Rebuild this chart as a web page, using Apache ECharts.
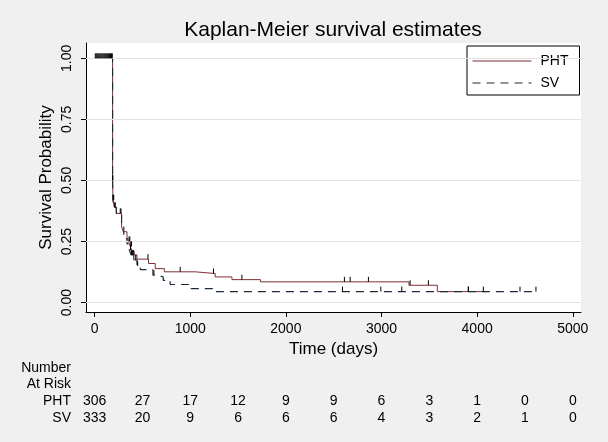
<!DOCTYPE html>
<html>
<head>
    <title>Kaplan-Meier survival estimates</title>
    <meta charset="utf-8">
    <script src="https://cdn.jsdelivr.net/npm/echarts@6/dist/echarts.min.js"></script>
    <style>
        html, body { margin: 0; padding: 0; background: #f0f0f0; }
        #chart { width: 608px; height: 442px; }
    </style>
</head>
<body>
    <div id="chart"></div>
    <script>
        // KM steps: [time (days), survival from that time on]
        const phtSteps = [[0, 1], [188, 0.5], [192, 0.42], [206, 0.39], [227, 0.365], [282, 0.31], [300, 0.29],
            [339, 0.265], [355, 0.25], [373, 0.23], [391, 0.21], [415, 0.195], [443, 0.178], [564, 0.16],
            [634, 0.139], [730, 0.126], [1052, 0.119], [1261, 0.105], [1436, 0.094], [1734, 0.085],
            [3287, 0.071], [3584, 0.045], [4100, 0.045]];
        const svSteps = [[0, 1], [188, 0.5], [192, 0.42], [206, 0.39], [227, 0.365], [282, 0.31], [305, 0.262],
            [339, 0.24], [363, 0.215], [383, 0.195], [408, 0.175], [443, 0.15], [478, 0.135], [610, 0.112],
            [666, 0.105], [718, 0.091], [790, 0.074], [1010, 0.057], [1254, 0.045], [4615, 0.045]];
        // censored times (tick marks)
        const phtCensor = [7, 17, 27, 37, 47, 57, 67, 77, 87, 97, 107, 117, 127, 137, 147, 157, 167, 177, 185,
            189, 190, 195, 200, 210, 216, 268, 276, 360, 368, 378, 386, 558, 895, 1243, 1540,
            2612, 2672, 2863, 3299, 3490, 3908, 4065];
        const svCensor = [375, 385, 395, 405, 410, 430, 450, 620, 2592, 2993, 3212, 3908, 4448, 4615];

        const xTicks = [0, 1000, 2000, 3000, 4000, 5000];
        const yTicks = [0, 0.25, 0.5, 0.75, 1];

        // number at risk table
        const riskTimes = [0, 500, 1000, 1500, 2000, 2500, 3000, 3500, 4000, 4500, 5000];
        const riskPHT = [306, 27, 17, 12, 9, 9, 6, 3, 1, 0, 0];
        const riskSV = [333, 20, 9, 6, 6, 6, 4, 3, 2, 1, 0];

        const FONT = 'Liberation Sans, Arial, sans-serif';
        const PHT_COLOR = '#7f2f35';
        const SV_COLOR = '#1c2a3c';

        function survAt(steps, t) {
            let s = steps[0][1];
            steps.forEach(([tt, v]) => { if (tt <= t) s = v; });
            return s;
        }

        const censorData = phtCensor.map(t => [t, survAt(phtSteps, t)])
            .concat(svCensor.map(t => [t, survAt(svSteps, t)]));

        const chart = echarts.init(document.getElementById('chart'));
        chart.setOption({
            animation: false,
            backgroundColor: '#f0f0f0',
            textStyle: { fontFamily: FONT },
            title: {
                text: 'Kaplan-Meier survival estimates',
                left: 333, top: 20, textAlign: 'center', padding: 0,
                textStyle: { fontSize: 21, fontWeight: 'normal', color: '#000', fontFamily: FONT }
            },
            legend: {
                data: ['PHT', 'SV'],
                orient: 'vertical',
                left: 467, top: 46,
                backgroundColor: '#fff',
                borderColor: '#000', borderWidth: 1, borderRadius: 0,
                padding: [8, 11, 5, 5],
                itemWidth: 59, itemHeight: 14, itemGap: 8,
                selectedMode: false,
                itemStyle: { opacity: 0 },
                lineStyle: { width: 1 },
                textStyle: { fontSize: 14, color: '#000', fontFamily: FONT, padding: [0, 0, 0, 4] }
            },
            grid: {
                left: 86, right: 27, top: 43, bottom: 130,
                show: true, backgroundColor: '#fff', borderWidth: 0
            },
            xAxis: {
                type: 'value', min: -90, max: 5086,
                name: 'Time (days)', nameLocation: 'middle', nameGap: 27,
                nameTextStyle: { fontSize: 17, color: '#000', fontFamily: FONT },
                axisLine: { show: true, onZero: false, lineStyle: { color: '#000', width: 1 } },
                axisTick: { show: true, length: 5, customValues: xTicks, lineStyle: { color: '#000' } },
                axisLabel: {
                    customValues: xTicks, margin: 10, fontSize: 14, color: '#000', fontFamily: FONT,
                    formatter: v => String(v)
                },
                splitLine: { show: false }
            },
            yAxis: {
                type: 'value', min: -0.0385, max: 1.0627,
                name: 'Survival Probability', nameLocation: 'middle', nameGap: 31, nameMoveOverlap: false,
                nameTextStyle: { fontSize: 17, color: '#000', fontFamily: FONT },
                axisLine: { show: true, onZero: false, lineStyle: { color: '#000', width: 1 } },
                axisTick: { show: true, length: 5, customValues: yTicks, lineStyle: { color: '#000' } },
                axisLabel: {
                    customValues: yTicks, rotate: 90, margin: 12, fontSize: 14, color: '#000', fontFamily: FONT,
                    formatter: v => v.toFixed(2)
                },
                splitLine: { show: false }
            },
            graphic: [
                { type: 'text', x: 71, y: 368, style: { text: 'Number', align: 'right', verticalAlign: 'middle', fontSize: 14, fontFamily: FONT, fill: '#000' } },
                { type: 'text', x: 71, y: 384, style: { text: 'At Risk', align: 'right', verticalAlign: 'middle', fontSize: 14, fontFamily: FONT, fill: '#000' } },
                { type: 'text', x: 71, y: 401, style: { text: 'PHT', align: 'right', verticalAlign: 'middle', fontSize: 14, fontFamily: FONT, fill: '#000' } },
                { type: 'text', x: 71, y: 418, style: { text: 'SV', align: 'right', verticalAlign: 'middle', fontSize: 14, fontFamily: FONT, fill: '#000' } }
            ],
            series: [
                {
                    name: 'grid', type: 'line', data: [], z: 1, silent: true,
                    markLine: {
                        silent: true, symbol: ['none', 'none'], label: { show: false },
                        lineStyle: { color: '#e3e3e3', type: 'solid', width: 1 },
                        data: yTicks.map(v => ({ yAxis: v }))
                    }
                },
                {
                    name: 'PHT', type: 'line', step: 'end', data: phtSteps, symbol: 'none', z: 3,
                    lineStyle: { color: PHT_COLOR, width: 1 }, itemStyle: { color: PHT_COLOR }
                },
                {
                    name: 'SV', type: 'line', step: 'end', data: svSteps, symbol: 'none', z: 4,
                    lineStyle: { color: SV_COLOR, width: 1.2, type: [8, 6] }, itemStyle: { color: SV_COLOR }
                },
                {
                    name: 'censored', type: 'custom', data: censorData, z: 5, silent: true,
                    renderItem: (params, api) => {
                        const p = api.coord([api.value(0), api.value(1)]);
                        return {
                            type: 'line',
                            shape: { x1: p[0], y1: p[1], x2: p[0], y2: p[1] - 5 },
                            style: { stroke: '#000', lineWidth: 1 }
                        };
                    }
                },
                {
                    name: 'risk', type: 'custom', clip: false, silent: true,
                    data: riskTimes.map((t, i) => [t, riskPHT[i], riskSV[i]]),
                    encode: { x: 0, y: 1 },
                    renderItem: (params, api) => {
                        const x = api.coord([api.value(0), 0])[0];
                        const txt = (val, y) => ({
                            type: 'text', x: x, y: y,
                            style: { text: String(val), align: 'center', verticalAlign: 'middle', fontSize: 14, fontFamily: FONT, fill: '#000' }
                        });
                        return { type: 'group', children: [txt(api.value(1), 401), txt(api.value(2), 418)] };
                    }
                }
            ]
        });
    </script>
</body>
</html>
